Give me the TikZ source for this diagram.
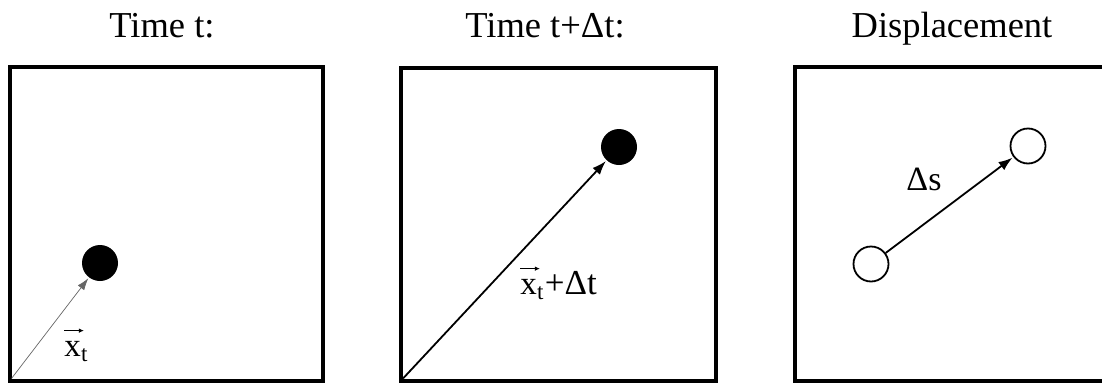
\documentclass[tikz,border=0pt]{standalone}
\usepackage{fontspec}
\setmainfont{Liberation Serif}
\usetikzlibrary{arrows.meta}
\begin{document}
\begin{tikzpicture}[x=1pt,y=-1pt,
  panel/.style={draw=black,line width=4pt},
  title/.style={anchor=base,inner sep=0pt,font=\fontsize{36.5}{40}\selectfont},
  lbl/.style={inner sep=0pt,font=\fontsize{33}{40}\selectfont},
  sub/.style={inner sep=0pt,anchor=base west,font=\fontsize{23}{26}\selectfont},
  dot/.style={circle,fill=black,minimum size=36pt,inner sep=0pt},
  ring/.style={circle,draw=black,line width=1.8pt,minimum size=35pt,inner sep=0pt,fill=white},
  vecarrow/.style={-{Latex[length=14pt,width=10pt]},line width=1.8pt,shorten >=1pt},
  thinarrow/.style={-{Latex[length=12pt,width=8pt]},line width=0.7pt,draw=black!60,shorten >=1pt},
  accent/.style={-{Latex[length=5pt,width=4.5pt]},line width=1.1pt},
]
\useasboundingbox (0,0) rectangle (1102,383);
% titles
\node[title] (t1) at (162,37) {Time t:};
\node[title] (t2) at (545,37) {Time t+Δt:};
\node[title] (t3) at (952,37) {Displacement};
% frames
\draw[panel] (9.5,67) rectangle (323,380.5);
\draw[panel] (401,68) rectangle (716,380.5);
\draw[panel] (795,66.5) rectangle (1112,380.5);
% corners
\coordinate (o1) at (11.5,378.5);
\coordinate (o2) at (403,378.5);
% particles
\node[dot] (d1) at (100,263) {};
\node[dot] (d2) at (619,147) {};
\node[ring] (c1) at (871,264) {};
\node[ring] (c2) at (1028,146) {};
% arrows
\draw[thinarrow] (o1) -- (d1);
\draw[vecarrow] (o2) -- (d2);
\draw[vecarrow] (c1) -- (c2);
% label 1
\node[lbl,anchor=base] (l1x) at (72.5,356) {x};
\node[sub] (l1t) at ([yshift=-5pt]l1x.base east) {t};
\draw[accent] ([xshift=0pt,yshift=10pt]l1x.north west) -- ([xshift=3pt,yshift=10pt]l1x.north east);
% label 2
\node[lbl,anchor=base] (l2x) at (528.5,294) {x};
\node[sub] (l2t) at ([yshift=-5pt]l2x.base east) {t};
\node[lbl,anchor=base west,font=\fontsize{35}{40}\selectfont] (l2r) at ([yshift=5pt,xshift=1pt]l2t.base east) {+Δt};
\draw[accent] ([xshift=0pt,yshift=10pt]l2x.north west) -- ([xshift=3pt,yshift=10pt]l2x.north east);
% label 3
\node[lbl,font=\fontsize{34}{40}\selectfont] (l3) at (924,179) {Δs};
\end{tikzpicture}
\end{document}
